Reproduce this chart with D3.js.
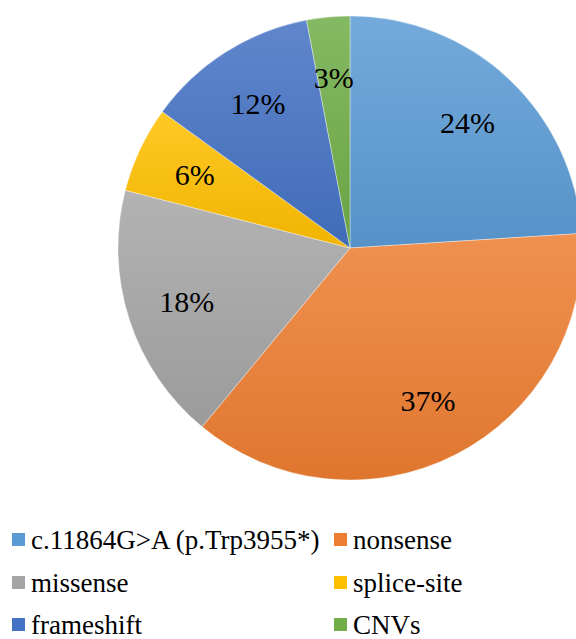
<!DOCTYPE html>
<html>
<head>
<meta charset="utf-8">
<script src="https://cdn.jsdelivr.net/npm/d3@7"></script>
<style>
  html, body { margin: 0; padding: 0; background: #fff; }
  svg { display: block; }
  text { font-family: "Liberation Serif", "DejaVu Serif", "Times New Roman", Times, serif; }
</style>
</head>
<body>
<svg id="chart" width="576" height="639"></svg>
<script>
const categories = ["c.11864G>A (p.Trp3955*)", "nonsense", "missense", "splice-site", "frameshift", "CNVs"];
const values = [24, 37, 18, 6, 12, 3];
const labels = ["24%", "37%", "18%", "6%", "12%", "3%"];
const colors = ["#5B9BD5", "#ED7D31", "#A5A5A5", "#FFC000", "#4472C4", "#70AD47"];
const legendOrder = [0, 1, 2, 3, 4, 5];

const svg = d3.select("#chart");
const cx = 350, cy = 248, R = 232;

const defs = svg.append("defs");
colors.forEach((c, i) => {
  const g = defs.append("linearGradient")
    .attr("id", "grad" + i)
    .attr("x1", 0).attr("y1", 0).attr("x2", 0).attr("y2", 1);
  g.append("stop").attr("offset", "0%").attr("stop-color", d3.interpolateRgb(c, "#ffffff")(0.15));
  g.append("stop").attr("offset", "100%").attr("stop-color", d3.interpolateRgb(c, "#000000")(0.06));
});

const pie = d3.pie().sort(null).value(d => d)(values);
const arc = d3.arc().innerRadius(0).outerRadius(R);
const labelArc = d3.arc().innerRadius(R * 0.74).outerRadius(R * 0.74);

const g = svg.append("g").attr("transform", `translate(${cx},${cy})`);
g.selectAll("path.slice").data(pie).join("path")
  .attr("class", "slice")
  .attr("d", arc)
  .attr("fill", (d, i) => `url(#grad${i})`)
  .attr("stroke", "#ffffff")
  .attr("stroke-opacity", 0.6)
  .attr("stroke-width", 0.6);

g.selectAll("text.lbl").data(pie).join("text")
  .attr("class", "lbl")
  .attr("transform", d => `translate(${labelArc.centroid(d)})`)
  .attr("text-anchor", "middle")
  .attr("dy", "0.35em")
  .style("font-size", "30px")
  .attr("fill", "#000")
  .text((d, i) => labels[i]);

// legend
const colX = [12, 334];
const rowY = [540, 583, 625];
const leg = svg.append("g");
legendOrder.forEach((idx, k) => {
  const col = k % 2, row = Math.floor(k / 2);
  const x = colX[col], y = rowY[row];
  leg.append("rect")
    .attr("x", x).attr("y", y - 7)
    .attr("width", 13).attr("height", 13)
    .attr("fill", colors[idx]);
  leg.append("text")
    .attr("x", x + 19).attr("y", y)
    .attr("dy", "0.35em")
    .style("font-size", "27px")
    .attr("fill", "#000")
    .text(categories[idx]);
});
</script>
</body>
</html>
